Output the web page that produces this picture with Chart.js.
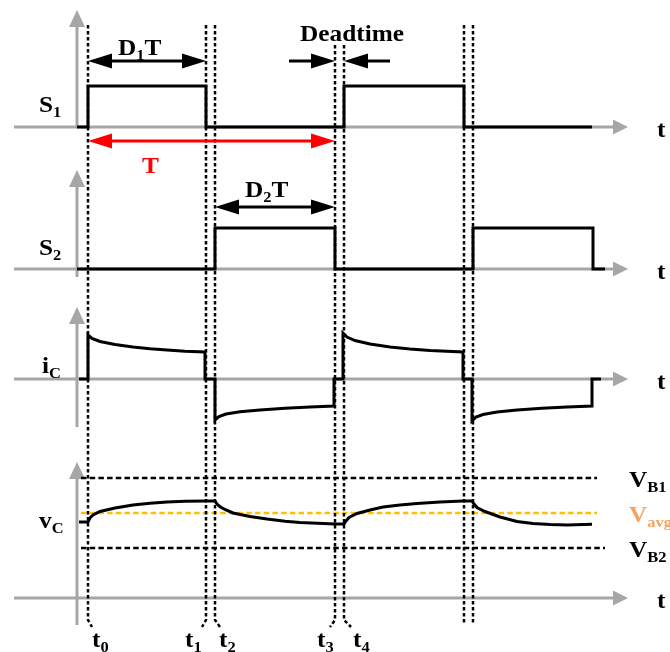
<!DOCTYPE html>
<html>
<head>
<meta charset="utf-8">
<script src="https://cdn.jsdelivr.net/npm/chart.js@4.4.0/dist/chart.umd.min.js"></script>
<style>
  html, body { margin: 0; padding: 0; background: #fff; }
  #wrap { width: 670px; height: 652px; }
</style>
</head>
<body>
<div id="wrap"><canvas id="myChart"></canvas></div>
<script>
'use strict';
// x = time (drawing units), y = vertical position of the trace (down is +)

// switching instants t0..t6
let instants = [88, 206, 215, 335, 344, 464, 473];
let instantNames = ['0', '1', '2', '3', '4', '', ''];
let instantTop = [25, 25, 25, 45, 45, 25, 25];
let instantBend = [4, -4, 5, -5, 7, 0, 0];

// gate signals
let s1X = [77, 88, 88, 206, 206, 344, 344, 464, 464, 592];
let s1Y = [127, 127, 86, 86, 127, 127, 86, 86, 127, 127];
let s2X = [77, 215, 215, 335, 335, 473, 473, 593, 593, 605];
let s2Y = [269, 269, 228, 228, 269, 269, 228, 228, 269, 269];

// capacitor current
let icX = [79, 88, 88, 92, 100, 115, 133, 150, 167, 185, 205, 205, 215, 215, 219, 226, 240, 260, 285, 310, 334, 334,
           343, 343, 347, 355, 370, 390, 410, 430, 463, 463, 472, 472, 476, 483, 497, 517, 542, 567, 592, 592, 601];
let icY = [379, 379, 335, 338.5, 341.5, 344.5, 347, 348.7, 350, 351.2, 352, 379, 379, 420, 416.5, 414, 411.8, 410, 408.3, 407, 406, 379,
           379, 333, 337, 340.5, 344, 347, 349, 350.5, 352, 379, 379, 421, 417, 414.5, 412, 410, 408.3, 407, 406, 379, 379];

// capacitor voltage
let vcX = [79, 88, 90, 93, 100, 115, 133, 150, 167, 185, 206, 215, 217, 220, 226, 233, 250, 267, 285, 300, 335,
           344, 346, 349, 357, 370, 383, 400, 417, 440, 463, 472, 474, 477, 485, 500, 517, 533, 550, 567, 592];
let vcY = [522, 522, 518, 515, 511.5, 508, 505, 503.3, 502, 501.3, 501, 501, 504, 506.7, 510, 513, 516.5, 519, 521.2, 522.5, 524,
           524, 521, 517.5, 513.5, 510, 507, 505, 503.5, 502, 501, 501, 504, 507.5, 511.5, 517, 521.5, 523.5, 524.5, 525, 524.3];

// reference levels
let levelNames = ['B1', 'avg', 'B2'];
let levelY = [478, 513, 548];
let levelEnd = [597, 597, 605];
let levelColors = ['#000000', '#ffc000', '#000000'];

// panel axes
let panelNames = ['S', 'S', 'i', 'v'];
let panelSubs = ['1', '2', 'C', 'C'];
let panelZero = [127, 269, 379, 598];
let panelTop = [10, 170, 307, 462];
let panelBottom = [128, 277, 427, 625];

function pts(xs, ys) {
    return xs.map(function (x, i) { return { x: x, y: ys[i] }; });
}

let datasets = [];

// waveforms
[[s1X, s1Y], [s2X, s2Y], [icX, icY], [vcX, vcY]].forEach(function (w) {
    datasets.push({
        data: pts(w[0], w[1]), borderColor: '#000', borderWidth: 3,
        pointRadius: 0, tension: 0, order: 1, borderJoinStyle: 'miter'
    });
});

// dotted instant lines
for (let i = 0; i < instants.length; i++) {
    let x = instants[i];
    let bottom = instantBend[i] === 0 ? 623 : 620;
    let d = [{ x: x, y: instantTop[i] }, { x: x, y: bottom }];
    if (instantBend[i] !== 0) d.push({ x: x + instantBend[i], y: 627 });
    datasets.push({
        data: d, borderColor: '#000', borderWidth: 2.5, borderDash: [3.5, 2.5],
        pointRadius: 0, tension: 0, order: 2
    });
}

// dashed levels
for (let i = 0; i < levelY.length; i++) {
    datasets.push({
        data: [{ x: 81, y: levelY[i] }, { x: levelEnd[i], y: levelY[i] }],
        borderColor: levelColors[i], borderWidth: 2.5, borderDash: [5.5, 3.2],
        pointRadius: 0, order: 3
    });
}

const FONT = '"Liberation Serif", "Times New Roman", serif';

// text is a bit wide in the original figure, so stretch it slightly
function richText(ctx, x, y, parts, color, size, subSize) {
    ctx.save();
    ctx.translate(x, y);
    ctx.scale(1.1, 1);
    ctx.fillStyle = color;
    ctx.textAlign = 'left';
    ctx.textBaseline = 'alphabetic';
    let cx = 0;
    parts.forEach(function (p) {
        ctx.font = 'bold ' + (p.sub ? subSize : size) + 'px ' + FONT;
        ctx.fillText(p.t, cx, p.sub ? 5 : 0);
        cx += ctx.measureText(p.t).width;
    });
    ctx.restore();
}

function head(ctx, tx, ty, dx, dy, len, half, color) {
    ctx.fillStyle = color;
    ctx.beginPath();
    ctx.moveTo(tx, ty);
    ctx.lineTo(tx - dx * len - dy * half, ty - dy * len + dx * half);
    ctx.lineTo(tx - dx * len + dy * half, ty - dy * len - dx * half);
    ctx.closePath();
    ctx.fill();
}

function hArrow(ctx, x1, x2, y, color, both) {
    ctx.strokeStyle = color;
    ctx.lineWidth = 3;
    ctx.beginPath();
    ctx.moveTo(both ? x1 + 10 : x1, y);
    ctx.lineTo(x2 - 10 * Math.sign(x2 - x1), y);
    ctx.stroke();
    let s = Math.sign(x2 - x1);
    head(ctx, x2, y, s, 0, 24, 7.5, color);
    if (both) head(ctx, x1, y, -s, 0, 24, 7.5, color);
}

const axesPlugin = {
    id: 'axesPlugin',
    beforeDatasetsDraw(chart) {
        let ctx = chart.ctx, xs = chart.scales.x, ys = chart.scales.y;
        let X = function (v) { return xs.getPixelForValue(v); };
        let Y = function (v) { return ys.getPixelForValue(v); };
        ctx.save();
        ctx.strokeStyle = '#a6a6a6';
        ctx.lineWidth = 3;
        for (let i = 0; i < panelZero.length; i++) {
            ctx.beginPath();
            ctx.moveTo(X(14), Y(panelZero[i]));
            ctx.lineTo(X(616), Y(panelZero[i]));
            ctx.moveTo(X(77), Y(panelBottom[i]));
            ctx.lineTo(X(77), Y(panelTop[i] + 12));
            ctx.stroke();
            head(ctx, X(628), Y(panelZero[i]), 1, 0, 15, 7.5, '#a6a6a6');
            head(ctx, X(77), Y(panelTop[i]), 0, -1, 17, 8, '#a6a6a6');
        }
        ctx.restore();
    },
    afterDatasetsDraw(chart) {
        let ctx = chart.ctx, xs = chart.scales.x, ys = chart.scales.y;
        let X = function (v) { return xs.getPixelForValue(v); };
        let Y = function (v) { return ys.getPixelForValue(v); };
        ctx.save();
        // panel names and t labels
        for (let i = 0; i < panelZero.length; i++) {
            let lx = panelNames[i] === 'i' ? 42 : 39;
            let ly = [112, 255, 373, 528][i];
            richText(ctx, X(lx), Y(ly), [{ t: panelNames[i] }, { t: panelSubs[i], sub: true }], '#000', 23, 15);
            richText(ctx, X(657), Y(panelZero[i] + 10), [{ t: 't' }], '#000', 23, 15);
        }
        // level names
        for (let i = 0; i < levelY.length; i++) {
            let c = i === 1 ? '#f4a460' : '#000';
            richText(ctx, X(629), Y(levelY[i] + 9), [{ t: 'V' }, { t: levelNames[i], sub: true }], c, 23, 15);
        }
        // instant names
        for (let i = 0; i < instants.length; i++) {
            if (!instantNames[i]) continue;
            let off = [4, -21, 4, -18, 9][i];
            richText(ctx, X(instants[i] + off), Y(647), [{ t: 't' }, { t: instantNames[i], sub: true }], '#000', 23, 15);
        }
        // D1T, D2T, T, deadtime arrows
        hArrow(ctx, X(instants[0]), X(instants[1]), Y(61), '#000', true);
        richText(ctx, X(118), Y(55), [{ t: 'D' }, { t: '1', sub: true }, { t: 'T' }], '#000', 23, 15);
        hArrow(ctx, X(instants[2]), X(instants[3]), Y(207), '#000', true);
        richText(ctx, X(245), Y(197), [{ t: 'D' }, { t: '2', sub: true }, { t: 'T' }], '#000', 23, 15);
        hArrow(ctx, X(instants[0]), X(instants[3]), Y(141), '#ff0000', true);
        richText(ctx, X(142), Y(173), [{ t: 'T' }], '#ff0000', 23, 15);
        hArrow(ctx, X(289), X(instants[3]), Y(61), '#000', false);
        hArrow(ctx, X(390), X(instants[4]), Y(61), '#000', false);
        richText(ctx, X(300), Y(41), [{ t: 'Deadtime' }], '#000', 23, 15);
        ctx.restore();
    }
};

let ctx = document.getElementById('myChart').getContext('2d');
let myChart = new Chart(ctx, {
    type: 'line',
    data: { datasets: datasets },
    options: {
        responsive: true,
        maintainAspectRatio: false,
        animation: false,
        layout: { padding: 0 },
        plugins: { legend: { display: false }, tooltip: { enabled: false } },
        scales: {
            x: { type: 'linear', min: 0, max: 670, display: false },
            y: { type: 'linear', min: 0, max: 652, reverse: true, display: false }
        }
    },
    plugins: [axesPlugin]
});
</script>
</body>
</html>
